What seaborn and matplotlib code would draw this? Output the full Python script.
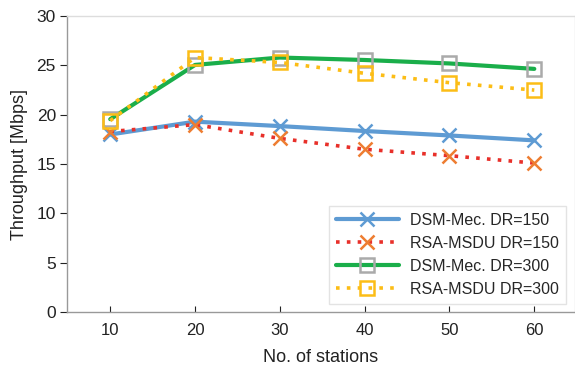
import matplotlib
matplotlib.use("Agg")
import matplotlib.pyplot as plt
import seaborn as sns
import pandas as pd

stations = [10, 20, 30, 40, 50, 60]
dsm_150 = [18.0, 19.3, 18.85, 18.35, 17.9, 17.4]
rsa_150 = [18.3, 19.0, 17.6, 16.5, 15.85, 15.1]
dsm_300 = [19.55, 25.05, 25.8, 25.55, 25.2, 24.65]
rsa_300 = [19.4, 25.8, 25.3, 24.2, 23.25, 22.5]
labels = ["DSM-Mec. DR=150", "RSA-MSDU DR=150", "DSM-Mec. DR=300", "RSA-MSDU DR=300"]

sns.set_theme(style="white")
plt.rcParams['font.family'] = ['Liberation Sans', 'DejaVu Sans']

fig = plt.figure(figsize=(5.75, 3.66), dpi=100)
ax = fig.add_axes([0.1165, 0.1475, 0.8835, 0.8085])

styles = [
    dict(color="#5e9bd3", linestyle="-", marker="x", mec="#5e9bd3", mfc="none", ms=9.5, mew=1.8, lw=3.0),
    dict(color="#e8302a", linestyle=(0, (1, 2)), marker="x", mec="#ee7d31", mfc="none", ms=9.5, mew=1.8, lw=2.6),
    dict(color="#1aae4a", linestyle="-", marker="s", mec="#aaaaaa", mfc="none", ms=10, mew=1.8, lw=3.0),
    dict(color="#fcbd16", linestyle=(0, (1, 2)), marker="s", mec="#fcbd16", mfc="none", ms=10, mew=1.8, lw=2.6),
]
series = [dsm_150, rsa_150, dsm_300, rsa_300]
for lab, vals, st in zip(labels, series, styles):
    df = pd.DataFrame({"x": stations, "y": vals})
    sns.lineplot(data=df, x="x", y="y", ax=ax, label=lab, color=st["color"],
                 linestyle=st["linestyle"], linewidth=st["lw"], marker=st["marker"],
                 markersize=st["ms"], markeredgecolor=st["mec"], markerfacecolor=st["mfc"],
                 markeredgewidth=st["mew"])

ax.set_xlim(4.9, 64.8)
ax.set_ylim(0, 30)
ax.set_xticks(stations)
ax.set_yticks([0, 5, 10, 15, 20, 25, 30])
ax.set_xlabel("No. of stations", fontsize=13, color="#222222", labelpad=8)
ax.set_ylabel("Throughput [Mbps]", fontsize=13, color="#222222", labelpad=6)
ax.tick_params(axis="x", labelsize=12, colors="#222222", direction="in", length=4, width=0.8, bottom=True, pad=8)
ax.tick_params(axis="y", labelsize=12.5, colors="#222222", direction="out", length=5, width=0.8, left=True, pad=3)
for s in ["left", "bottom"]:
    ax.spines[s].set_color("#999999")
    ax.spines[s].set_linewidth(1.0)
for s in ["top", "right"]:
    ax.spines[s].set_color("#dddddd")
    ax.spines[s].set_linewidth(1.0)

leg = ax.legend(loc="lower right", fontsize=11.5, frameon=True, fancybox=False,
                handlelength=3.9, borderpad=0.45, labelspacing=0.5, handletextpad=0.7,
                borderaxespad=0, bbox_to_anchor=(0.982, 0.027))
leg.get_frame().set_edgecolor("#dddddd")
leg.get_frame().set_linewidth(1.0)

fig.savefig("out.png", dpi=100)
